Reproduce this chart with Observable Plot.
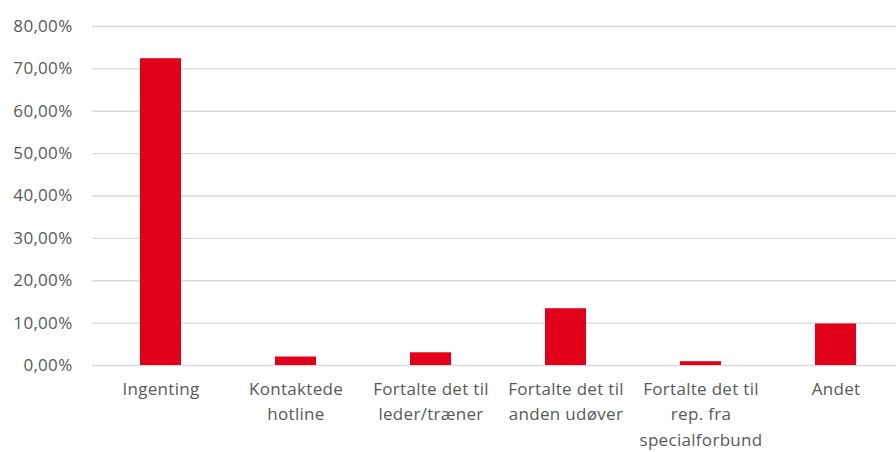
<!DOCTYPE html>
<html>
<head>
<meta charset="utf-8">
<script src="https://cdn.jsdelivr.net/npm/d3@7"></script>
<script src="https://cdn.jsdelivr.net/npm/@observablehq/plot@0.6"></script>
<style>
html, body { margin: 0; padding: 0; background: #fff; overflow: hidden; }
svg { overflow: hidden; }
svg text { letter-spacing: 0.3px; }
</style>
</head>
<body>
<div id="chart"></div>
<script>
const categories = [
  "Ingenting",
  "Kontaktede\nhotline",
  "Fortalte det til\nleder/træner",
  "Fortalte det til\nanden udøver",
  "Fortalte det til\nrep. fra\nspecialforbund",
  "Andet"
];
const values = [72.4, 2.0, 3.0, 13.4, 0.9, 9.8];
const yTicks = [0, 10, 20, 30, 40, 50, 60, 70, 80];

const data = categories.map((c, i) => ({category: c, value: values[i]}));
const fmt = d => d.toFixed(2).replace(".", ",") + "%";

const chart = Plot.plot({
  width: 896,
  height: 452,
  marginTop: 26,
  marginBottom: 87,
  marginLeft: 92,
  marginRight: -9,
  style: {fontFamily: "'Open Sans', sans-serif", background: "#fff", overflow: "hidden"},
  x: {domain: categories, paddingInner: 0.694, paddingOuter: 0.347, label: null},
  y: {domain: [0, 80], label: null},
  marks: [
    Plot.ruleY(yTicks, {stroke: "#d9d9d9", strokeWidth: 1.3, strokeOpacity: 1}),
    Plot.barY(data, {x: "category", y: "value", fill: "#e2001a"}),
    Plot.axisY(yTicks, {tickSize: 0, tickPadding: 20, tickFormat: fmt, fontSize: 17, fill: "#595959", label: null}),
    Plot.axisX({tickSize: 0, tickPadding: 11, fontSize: 17, fill: "#595959", lineHeight: 1.5, label: null})
  ]
});
document.getElementById("chart").appendChild(chart);
</script>
</body>
</html>
